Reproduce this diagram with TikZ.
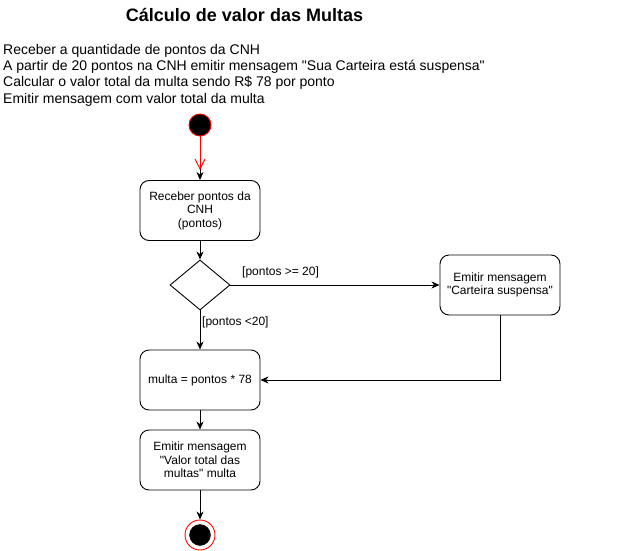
\documentclass[tikz,border=0pt]{standalone}
\usepackage{fontspec}
\setmainfont{Liberation Sans}[Ligatures=TeXOff]
\usetikzlibrary{shapes.geometric,arrows.meta}
\begin{document}
\begin{tikzpicture}[x=1pt,y=-1pt,
  box/.style={draw=black,line width=0.9pt,rounded corners=9pt,fill=white,
    minimum width=120pt,minimum height=60pt,align=center,inner sep=2pt,
    font=\fontsize{12}{13.6}\selectfont},
  dia/.style={draw=black,line width=0.9pt,diamond,fill=white,inner sep=0pt,
    minimum width=60pt,minimum height=50pt},
  arr/.style={draw=black,line width=0.9pt,-{Stealth[length=8pt,width=7pt,inset=2.5pt]}},
  lbl/.style={font=\fontsize{12}{14}\selectfont,inner sep=0pt,anchor=west},
]
\useasboundingbox (0,0) rectangle (621,551);
\fill[white] (0,0) rectangle (621,551);

\node[font=\bfseries\fontsize{18}{20}\selectfont,anchor=base,inner sep=0pt] (title) at (244.5,22) {Cálculo de valor das Multas};
\node[anchor=north west,align=left,inner sep=0pt,font=\fontsize{14}{16.3}\selectfont] (desc) at (3,44)
  {Receber a quantidade de pontos da CNH\\
   A partir de 20 pontos na CNH emitir mensagem "Sua Carteira está suspensa"\\
   Calcular o valor total da multa sendo R\$ 78 por ponto\\
   Emitir mensagem com valor total da multa};

\node[circle,draw=red,fill=black,line width=0.9pt,minimum size=22pt,inner sep=0pt] (start) at (200,125) {};
\node[box] (b1) at (200,210.5) {Receber pontos da\\CNH\\(pontos)};
\node[dia] (d) at (200,285) {};
\node[box] (b2) at (500,285) {Emitir mensagem\\"Carteira suspensa"};
\node[box] (b3) at (200,380) {multa = pontos * 78};
\node[box] (b4) at (200,460) {Emitir mensagem\\"Valor total das\\multas" multa};
\node[circle,draw=red,fill=white,line width=0.9pt,minimum size=30pt,inner sep=0pt] (endo) at (200,535) {};
\node[circle,draw=black,fill=black,minimum size=21pt,inner sep=0pt] (endi) at (200,535) {};
\coordinate (redtip) at (200,170);

\draw[arr] (start) -- (b1);
\draw[red,line width=0.9pt,-{Straight Barb[length=10pt,width=10pt]}] (start) -- (redtip);
\draw[arr] (b1) -- (d);
\draw[arr] (d) -- (b2);
\draw[arr] (d) -- (b3);
\draw[arr] (b2.south) |- (b3.east);
\draw[arr] (b3) -- (b4);
\draw[arr] (b4) -- (endo);

\node[lbl] (l1) at (242,272) {[pontos >= 20]};
\node[lbl] (l2) at (202,322) {[pontos <20]};
\end{tikzpicture}
\end{document}
